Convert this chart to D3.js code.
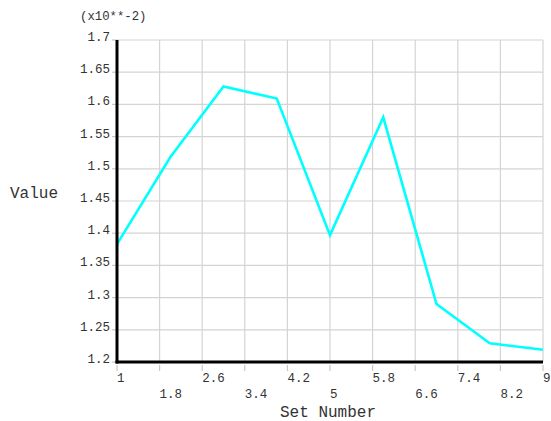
<!DOCTYPE html>
<html><head><meta charset="utf-8">
<script src="https://cdn.jsdelivr.net/npm/d3@7"></script>
<style>
html,body{margin:0;padding:0;background:#fff;}
text{font-family:"Liberation Mono","DejaVu Sans Mono",monospace;fill:#333;}
</style></head>
<body>
<svg id="chart" width="551" height="421"></svg>
<script>
const setNumbers = [1, 2, 3, 4, 5, 6, 7, 8, 9];
const values = [1.383, 1.518, 1.628, 1.609, 1.397, 1.580, 1.290, 1.229, 1.219];
const xTicks = [1, 1.8, 2.6, 3.4, 4.2, 5, 5.8, 6.6, 7.4, 8.2, 9];
const yTicks = [1.2, 1.25, 1.3, 1.35, 1.4, 1.45, 1.5, 1.55, 1.6, 1.65, 1.7];
const scaleLabel = "(x10**-2)";
const xTitle = "Set Number";
const yTitle = "Value";

const svg = d3.select("#chart");
const L = 117, R = 543, T = 40, B = 362;
const x = d3.scaleLinear().domain([1, 9]).range([L, R]);
const y = d3.scaleLinear().domain([1.2, 1.7]).range([B, T]);

// grid
svg.append("g").selectAll("line").data(xTicks).join("line")
  .attr("x1", d => x(d)).attr("x2", d => x(d)).attr("y1", T).attr("y2", B)
  .attr("stroke", "#d4d4d4").attr("stroke-width", 1.2);
svg.append("g").selectAll("line").data(yTicks).join("line")
  .attr("x1", L).attr("x2", R).attr("y1", d => y(d)).attr("y2", d => y(d))
  .attr("stroke", "#d4d4d4").attr("stroke-width", 1.2);

// tick marks
svg.append("g").selectAll("line").data(xTicks).join("line")
  .attr("x1", d => x(d)).attr("x2", d => x(d)).attr("y1", B + 3).attr("y2", B + 9)
  .attr("stroke", "#c8c8c8").attr("stroke-width", 1.2);
svg.append("g").selectAll("line").data(yTicks).join("line")
  .attr("x1", L - 5).attr("x2", L).attr("y1", d => y(d)).attr("y2", d => y(d))
  .attr("stroke", "#c8c8c8").attr("stroke-width", 1.2);

// line
svg.append("path").datum(setNumbers.map((s, i) => [s, values[i]]))
  .attr("fill", "none").attr("stroke", "#00ffff").attr("stroke-width", 2.6)
  .attr("stroke-linejoin", "miter")
  .attr("d", d3.line().x(d => x(d[0])).y(d => y(d[1])));

// axes
svg.append("line").attr("x1", L).attr("x2", L).attr("y1", T).attr("y2", B + 1.5)
  .attr("stroke", "#000").attr("stroke-width", 3);
svg.append("line").attr("x1", L - 1.5).attr("x2", R).attr("y1", B).attr("y2", B)
  .attr("stroke", "#000").attr("stroke-width", 3);

// y labels
svg.append("g").selectAll("text").data(yTicks).join("text")
  .attr("x", 110).attr("y", d => y(d) + 1).attr("text-anchor", "end")
  .attr("font-size", "12.5px").text(d => d3.format("")(d));

// x labels
svg.append("g").selectAll("text").data(xTicks).join("text")
  .attr("x", d => x(d)).attr("y", (d, i) => i % 2 === 0 ? 382 : 398)
  .attr("font-size", "12.5px").text(d => String(d));

svg.append("text").attr("x", 80).attr("y", 20).attr("font-size", "12.3px").text(scaleLabel);
svg.append("text").attr("x", 10).attr("y", 198).attr("font-size", "16px").text(yTitle);
svg.append("text").attr("x", 280).attr("y", 417).attr("font-size", "16px").text(xTitle);
</script>
</body></html>
